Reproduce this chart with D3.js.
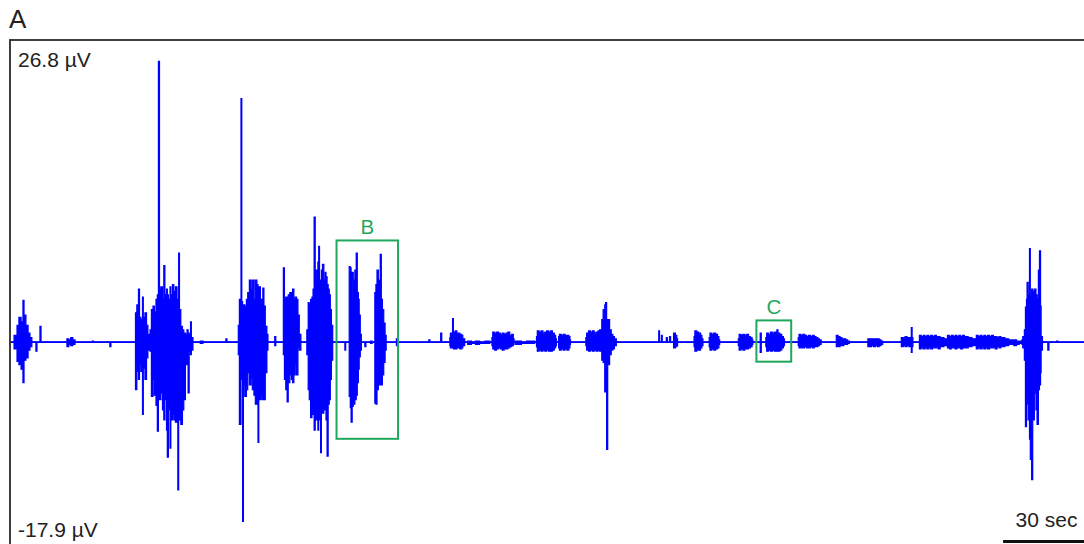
<!DOCTYPE html>
<html>
<head>
<meta charset="utf-8">
<script src="https://cdn.jsdelivr.net/npm/d3@7"></script>
<style>
  html, body { margin: 0; padding: 0; background: #fff; }
  svg { display: block; }
  text { font-family: "Liberation Sans", Arial, Helvetica, sans-serif; }
</style>
</head>
<body>
<svg id="chart" width="1084" height="544"></svg>
<script>
// Recording window: time in seconds, amplitude in microvolts
const timeDomain = [0, 398];
const voltRange = [-17.9, 26.8];
const scaleBarSeconds = 30;
const panelLabel = "A";

// Min/max envelope per display column: [time s, max µV, min µV]
const trace = [
  [0, 0, 0], [1.5, 0.6, -0.6], [2.6, 1.5, -1.7], [3.3, 2.2, -2.0], [4.1, 1.8, -2.4],
  [4.8, 3.7, -3.6], [5.2, 2.4, -1.6], [5.9, 1.5, -1.4], [6.7, 0.8, -0.7], [7.4, 0.4, -0.4],
  [8.1, 0, 0], [9.6, 0, -0.8], [10.0, 0, 0], [11.1, 1.4, 0], [11.5, 0, 0],
  [21.1, 0.3, -0.4], [21.8, 0.2, -0.2], [22.5, 0.4, -0.3], [23.3, 0.2, -0.2], [24.1, 0, 0],
  [30.5, 0.1, 0], [30.9, 0, 0], [37.0, 0, -0.4], [37.4, 0, 0],
  // first large burst
  [45.9, 0, 0], [46.5, 2.6, -4.2], [47.0, 3.3, -2.6], [47.6, 4.7, -3.3], [48.0, 2.2, -2.0],
  [48.5, 2.0, -2.6], [49.1, 4.0, -6.4], [49.4, 2.2, -2.3], [50.0, 2.6, -3.3], [50.6, 1.5, -1.4],
  [51.1, 0.7, -0.7], [51.9, 1.1, -0.8], [52.4, 2.9, -4.8], [53.0, 3.2, -3.3], [53.5, 2.7, -4.7],
  [54.1, 3.8, -5.6], [54.6, 4.2, -7.9], [55.0, 24.9, -1.6], [55.4, 4.7, -5.1], [55.9, 4.9, -4.5],
  [56.5, 3.8, -6.0], [57.0, 6.8, -6.9], [57.4, 4.2, -5.1], [58.0, 4.7, -7.8], [58.3, 4.2, -10.2],
  [58.7, 3.8, -6.0], [59.3, 4.9, -9.4], [59.6, 4.2, -6.9], [60.2, 5.1, -6.4], [60.7, 4.5, -6.9],
  [61.3, 4.9, -7.1], [61.9, 3.8, -6.4], [62.2, 3.8, -13.1], [62.5, 7.9, -6.9], [62.8, 2.9, -6.9],
  [63.3, 1.4, -7.3], [63.9, 1.1, -6.0], [64.4, 0.8, -5.1], [65.0, 0.7, -2.0], [65.6, 1.1, -1.6],
  [66.0, 0.8, -4.5], [66.4, 0.6, -0.8], [66.9, 1.8, -1.1], [67.2, 0.4, -0.7], [67.8, 0, 0],
  [70.5, 0.1, -0.1], [71.5, 0, 0], [80.0, 0.3, 0], [80.4, 0, 0],
  // second large burst
  [84.1, 0, 0], [84.6, 1.5, -1.1], [85.0, 3.8, -7.3], [85.6, 21.6, -1.0], [85.9, 3.6, -3.3],
  [86.2, 2.9, -15.9], [86.5, 3.3, -3.8], [87.0, 3.2, -4.8], [87.6, 3.8, -4.2], [88.1, 4.4, -2.7],
  [88.7, 5.5, -3.8], [89.3, 4.7, -3.2], [89.8, 5.5, -4.2], [90.4, 3.8, -4.7], [90.9, 5.5, -5.5],
  [91.5, 5.1, -5.1], [91.9, 4.2, -8.9], [92.2, 4.9, -5.1], [92.8, 3.8, -4.7], [93.3, 3.3, -5.1],
  [93.7, 4.8, -4.2], [94.1, 3.2, -5.1], [94.6, 1.4, -2.7], [95.2, 0.7, -0.7], [95.6, 0, 0],
  [98.1, 0.5, -0.3], [98.5, 0, 0],
  // third burst
  [100.9, 0, 0], [101.3, 6.6, -1.1], [101.7, 3.8, -3.3], [102.2, 4.0, -4.2], [102.7, 3.8, -5.3],
  [103.1, 4.2, -3.6], [103.7, 4.4, -2.9], [104.3, 3.8, -3.3], [104.7, 4.7, -3.6], [105.2, 3.8, -2.9],
  [105.7, 4.0, -2.0], [106.2, 3.8, -2.9], [106.7, 2.4, -0.5], [107.2, 0.7, -0.7], [107.8, 0, 0],
  // fourth burst
  [109.6, 0, 0], [110.0, 1.1, -1.1], [110.5, 3.5, -4.2], [110.9, 3.3, -5.1], [111.4, 3.8, -6.7],
  [111.9, 4.0, -6.0], [112.3, 4.7, -6.4], [112.7, 11.1, -7.8], [113.1, 5.1, -6.0], [113.5, 6.4, -6.9],
  [114.1, 7.1, -7.8], [114.4, 8.5, -6.9], [114.7, 5.5, -6.9], [115.1, 5.1, -9.8], [115.4, 6.4, -6.3],
  [115.8, 6.9, -6.3], [116.3, 5.5, -6.0], [116.8, 6.2, -5.1], [117.1, 5.8, -6.9], [117.5, 5.1, -10.1],
  [117.9, 4.7, -5.5], [118.3, 4.2, -5.1], [118.7, 2.9, -3.3], [119.1, 1.5, -1.6], [119.6, 0, 0],
  [124.1, 0, -0.7], [124.4, 0, 0],
  // bursts inside window B
  [125.4, 0, 0], [125.7, 6.7, -4.8], [126.1, 6.6, -5.8], [126.4, 3.8, -7.1], [126.8, 6.2, -5.7],
  [127.2, 5.5, -5.5], [127.8, 6.4, -5.1], [128.3, 7.9, -4.7], [128.7, 4.4, -3.6], [129.1, 3.8, -2.4],
  [129.4, 2.4, -1.3], [129.8, 0.7, -0.7], [130.2, 0, 0], [131.5, 0, -0.4], [131.9, 0, 0],
  [133.6, 0.1, -0.1], [134.2, 0, 0],
  [135.0, 0, 0], [135.2, 4.4, -5.4], [135.6, 5.1, -5.5], [136.0, 6.4, -4.2], [136.5, 5.5, -3.8],
  [136.9, 4.7, -3.6], [137.2, 7.8, -3.8], [137.6, 3.8, -3.8], [138.0, 2.9, -2.9], [138.5, 1.7, -1.8],
  [139.0, 0.6, -0.7], [139.4, 0, 0],
  [143.2, 0.3, -0.3], [143.6, 0, 0], [155.2, 0.2, 0], [155.6, 0, 0], [159.6, 0.8, 0], [160.0, 0, 0],
  // low-amplitude activity
  [163.0, 0.4, -0.3], [163.2, 0.8, -0.5], [164.0, 2.1, -0.5], [164.3, 0.9, -0.6], [165.0, 1.0, -0.6],
  [165.6, 0.8, -0.5], [166.7, 0.7, -0.6], [167.4, 0.6, -0.5], [167.8, 0.3, -0.3], [168.5, 0, 0],
  [169.6, 0.1, -0.2], [171.0, 0, -0.1], [172.5, 0.1, -0.2], [174.0, 0, -0.1], [176.0, 0.1, -0.1], [177.8, 0, 0],
  [178.6, 0.4, -0.3], [178.9, 0.9, -0.6], [179.6, 0.8, -0.7], [180.3, 0.9, -0.6], [181.0, 0.8, -0.5],
  [181.7, 0.7, -0.6], [182.4, 0.8, -0.7], [183.1, 0.7, -0.6], [183.8, 0.8, -0.6], [184.5, 0.9, -0.5],
  [185.2, 0.6, -0.4], [185.9, 0.7, -0.3], [186.5, 0.3, -0.2], [186.8, 0, 0],
  [187.4, 0.1, -0.2], [189.5, 0, -0.1], [191.5, 0.1, -0.1], [194.4, 0, 0],
  [195.1, 0.5, -0.4], [195.4, 1.0, -0.8], [196.1, 0.9, -0.7], [196.8, 1.0, -0.8], [197.5, 0.8, -0.7],
  [198.2, 0.9, -0.8], [198.9, 1.0, -0.7], [199.6, 0.9, -0.8], [200.3, 1.0, -0.8], [201.0, 0.8, -0.7],
  [201.7, 0.6, -0.5], [202.2, 0.3, -0.3], [202.5, 0, 0],
  [203.3, 0.5, -0.5], [203.6, 0.7, -0.7], [204.3, 0.6, -0.6], [205.0, 0.7, -0.7], [205.7, 0.6, -0.6],
  [206.4, 0.6, -0.7], [207.1, 0.5, -0.5], [207.5, 0.2, -0.2], [207.7, 0, 0],
  [213.4, 0.4, -0.3], [213.7, 0.8, -0.7], [214.4, 1.0, -0.8], [215.1, 0.9, -0.7], [215.8, 1.0, -0.8],
  [216.5, 0.8, -0.7], [217.2, 0.9, -0.8], [217.9, 1.0, -0.7], [218.5, 1.1, -0.8], [219.3, 2.0, -1.6],
  [219.8, 2.9, -1.8], [220.4, 3.3, -4.4], [220.7, 3.5, -2.4], [221.1, 2.0, -9.5], [221.5, 2.0, -2.0],
  [222.2, 1.1, -1.1], [222.8, 0.7, -0.7], [223.4, 0.5, -0.6], [224.0, 0.3, -0.3], [224.7, 0, 0],
  [240.4, 1.0, 0], [240.7, 0, 0], [241.4, 0.6, 0], [241.7, 0, 0], [243.2, 0.4, 0], [243.6, 0, 0],
  [244.4, 0.5, 0], [244.8, 0, 0], [245.9, 0.8, -0.5], [246.6, 0.6, -0.4], [247.1, 0.3, -0.3], [247.4, 0, 0],
  [253.5, 0.5, -0.4], [253.8, 1.0, -0.8], [254.5, 0.9, -0.7], [255.2, 0.8, -0.7], [255.9, 0.6, -0.5],
  [256.4, 0.3, -0.3], [256.8, 0, 0],
  [259.1, 0.4, -0.4], [259.4, 0.8, -0.7], [260.1, 0.7, -0.6], [260.8, 0.8, -0.7], [261.5, 0.7, -0.6],
  [262.2, 0.5, -0.5], [262.7, 0.2, -0.2], [263.0, 0, 0],
  [269.9, 0.3, -0.3], [270.2, 0.7, -0.7], [270.9, 0.6, -0.6], [271.6, 0.7, -0.7], [272.3, 0.6, -0.6],
  [273.0, 0.7, -0.6], [273.7, 0.5, -0.5], [274.4, 0.4, -0.4], [275.0, 0.2, -0.2], [275.3, 0, 0],
  // window C
  [278.0, 0.8, -0.9], [278.4, 0, 0],
  [280.1, 0.4, -0.4], [280.4, 0.8, -0.8], [281.1, 0.7, -0.7], [281.8, 0.9, -0.8], [282.5, 0.8, -0.7],
  [283.2, 0.9, -0.8], [283.9, 0.8, -0.8], [284.2, 1.1, -0.8], [284.6, 0.8, -0.8], [285.3, 0.7, -0.7],
  [286.0, 0.5, -0.5], [286.6, 0.3, -0.3], [287.0, 0, 0],
  [292.1, 0.4, -0.3], [292.4, 0.7, -0.5], [293.1, 0.6, -0.5], [293.8, 0.7, -0.5], [294.5, 0.6, -0.4],
  [295.2, 0.5, -0.5], [295.9, 0.6, -0.5], [296.6, 0.5, -0.4], [297.3, 0.6, -0.5], [298.0, 0.5, -0.4],
  [298.7, 0.4, -0.4], [299.4, 0.3, -0.3], [300.0, 0.2, -0.2], [300.6, 0, 0],
  [306.2, 0.6, -0.4], [306.9, 0.5, -0.4], [307.6, 0.4, -0.3], [308.3, 0.3, -0.3], [309.0, 0.3, -0.2],
  [309.7, 0.2, -0.2], [310.4, 0.1, -0.1], [311.1, 0, 0],
  [317.9, 0.3, -0.4], [318.6, 0.3, -0.4], [319.3, 0.3, -0.3], [320.0, 0.3, -0.4], [320.7, 0.3, -0.3],
  [321.4, 0.3, -0.4], [322.1, 0.2, -0.3], [322.8, 0.1, -0.2], [323.4, 0, 0],
  [330.3, 0.4, -0.4], [331.0, 0.4, -0.3], [331.7, 0.5, -0.4], [332.4, 0.4, -0.3], [333.1, 0.4, -0.4],
  [334.0, 1.3, -0.9], [334.3, 0.4, -0.4], [334.6, 0, 0],
  [337.0, 0.6, -0.6], [337.7, 0.5, -0.5], [338.4, 0.6, -0.6], [339.1, 0.5, -0.5], [339.8, 0.6, -0.6],
  [340.5, 0.5, -0.5], [341.2, 0.6, -0.6], [341.9, 0.5, -0.5], [342.6, 0.6, -0.5], [343.3, 0.5, -0.5],
  [344.0, 0.5, -0.6], [344.7, 0.4, -0.4], [345.4, 0.4, -0.4], [346.1, 0.3, -0.3], [346.8, 0.3, -0.3],
  [347.4, 0.6, -0.5], [348.1, 0.5, -0.6], [348.8, 0.6, -0.5], [349.5, 0.5, -0.5], [350.2, 0.6, -0.6],
  [350.9, 0.5, -0.5], [351.6, 0.6, -0.5], [352.3, 0.5, -0.6], [353.0, 0.6, -0.5], [353.7, 0.5, -0.5],
  [354.4, 0.5, -0.5], [355.1, 0.4, -0.4], [355.8, 0.4, -0.4], [356.5, 0.3, -0.3], [357.4, 0.3, -0.3],
  [358.1, 0.6, -0.6], [358.8, 0.5, -0.5], [359.5, 0.6, -0.6], [360.2, 0.5, -0.5], [360.9, 0.6, -0.6],
  [361.6, 0.5, -0.5], [362.3, 0.6, -0.6], [363.0, 0.5, -0.5], [363.7, 0.6, -0.5], [364.4, 0.5, -0.5],
  [365.1, 0.5, -0.6], [365.8, 0.4, -0.4], [366.5, 0.5, -0.5], [367.2, 0.4, -0.4], [368.0, 0.4, -0.4],
  [368.7, 0.3, -0.3], [369.4, 0.3, -0.3], [370.1, 0.2, -0.2], [371.0, 0.2, -0.2], [372.0, 0.2, -0.3],
  [373.0, 0.1, -0.2], [374.0, 0.1, -0.1], [375.0, 0.2, -0.2],
  // final burst
  [375.3, 0.5, -0.5], [375.9, 1.1, -1.6], [376.3, 3.1, -7.5], [376.7, 3.8, -5.5], [376.9, 5.3, -5.1],
  [377.3, 4.2, -6.9], [377.8, 8.3, -8.6], [378.1, 4.2, -10.4], [378.6, 4.7, -12.2], [379.0, 4.5, -6.9],
  [379.6, 4.7, -4.5], [380.2, 4.2, -6.0], [380.6, 3.8, -7.3], [381.1, 6.4, -4.2], [381.5, 8.1, -3.8],
  [381.9, 3.2, -2.7], [382.1, 0.5, -0.7], [382.6, 0, 0],
  [384.6, 0, -0.7], [385.0, 0, 0], [387.9, 0.1, 0], [388.3, 0, 0],
  [398, 0, 0]
];

// Highlighted windows: time span (s) and amplitude span (µV)
const windows = [
  { label: "B", t0: 121.0, t1: 143.8, vLow: -8.57, vHigh: 9.02 },
  { label: "C", t0: 276.6, t1: 289.5, vLow: -1.73, vHigh: 1.93 }
];

const traceColor = "#0000ff";
const windowColor = "#1fa85c";

const svg = d3.select("#chart");
const plot = { left: 10, top: 40, right: 1084, bottom: 544 };

const x = d3.scaleLinear().domain(timeDomain).range([plot.left, plot.right]);
const y = d3.scaleLinear().domain(voltRange).range([plot.bottom, plot.top]);

svg.append("defs").append("clipPath").attr("id", "plotClip")
  .append("rect")
  .attr("x", plot.left).attr("y", plot.top)
  .attr("width", plot.right - plot.left).attr("height", plot.bottom - plot.top);

// Signal envelope drawn as stepped min/max columns
const envelope = d3.area()
  .curve(d3.curveStepAfter)
  .x(d => x(d[0]))
  .y0(d => y(d[2]))
  .y1(d => y(d[1]));

const traceLayer = svg.append("g").attr("clip-path", "url(#plotClip)");

// Isoelectric line
traceLayer.append("line")
  .attr("x1", x(timeDomain[0])).attr("x2", x(timeDomain[1]))
  .attr("y1", y(0)).attr("y2", y(0))
  .attr("stroke", traceColor).attr("stroke-width", 1.7);

traceLayer.append("path")
  .datum(trace)
  .attr("d", envelope)
  .attr("fill", traceColor)
  .attr("stroke", traceColor)
  .attr("stroke-width", 1.2)
  .attr("stroke-linejoin", "miter");

// Frame
svg.append("rect")
  .attr("x", plot.left).attr("y", plot.top)
  .attr("width", plot.right - plot.left + 20)
  .attr("height", plot.bottom - plot.top + 20)
  .attr("fill", "none")
  .attr("stroke", "#2b2b2b")
  .attr("stroke-width", 1.8);

// Highlight windows
const win = svg.append("g");
win.selectAll("rect").data(windows).join("rect")
  .attr("x", d => x(d.t0))
  .attr("y", d => y(d.vHigh))
  .attr("width", d => x(d.t1) - x(d.t0))
  .attr("height", d => y(d.vLow) - y(d.vHigh))
  .attr("fill", "none")
  .attr("stroke", windowColor)
  .attr("stroke-width", 2);
win.selectAll("text").data(windows).join("text")
  .attr("x", d => x((d.t0 + d.t1) / 2))
  .attr("y", d => y(d.vHigh) - 6)
  .attr("text-anchor", "middle")
  .attr("font-size", 20.5)
  .attr("fill", windowColor)
  .text(d => d.label);

// Amplitude limits
svg.append("text")
  .attr("x", 18).attr("y", y(voltRange[1]) + 27)
  .attr("font-size", 21).attr("fill", "#222")
  .text(`${voltRange[1]} µV`);
svg.append("text")
  .attr("x", 18).attr("y", y(voltRange[0]) - 7)
  .attr("font-size", 21).attr("fill", "#222")
  .text(`${voltRange[0]} µV`);

// Panel letter
svg.append("text")
  .attr("x", 9).attr("y", 28)
  .attr("font-size", 26).attr("fill", "#222")
  .text(panelLabel);

// Time scale bar at the right end
const barEnd = timeDomain[1];
const barStart = barEnd - scaleBarSeconds;
svg.append("line")
  .attr("x1", x(barStart)).attr("x2", x(barEnd))
  .attr("y1", 541.5).attr("y2", 541.5)
  .attr("stroke", "#111").attr("stroke-width", 3);
svg.append("text")
  .attr("x", (x(barStart) + x(barEnd)) / 2 + 3).attr("y", 527)
  .attr("text-anchor", "middle")
  .attr("font-size", 21).attr("fill", "#222")
  .text(`${scaleBarSeconds} sec`);
</script>
</body>
</html>
